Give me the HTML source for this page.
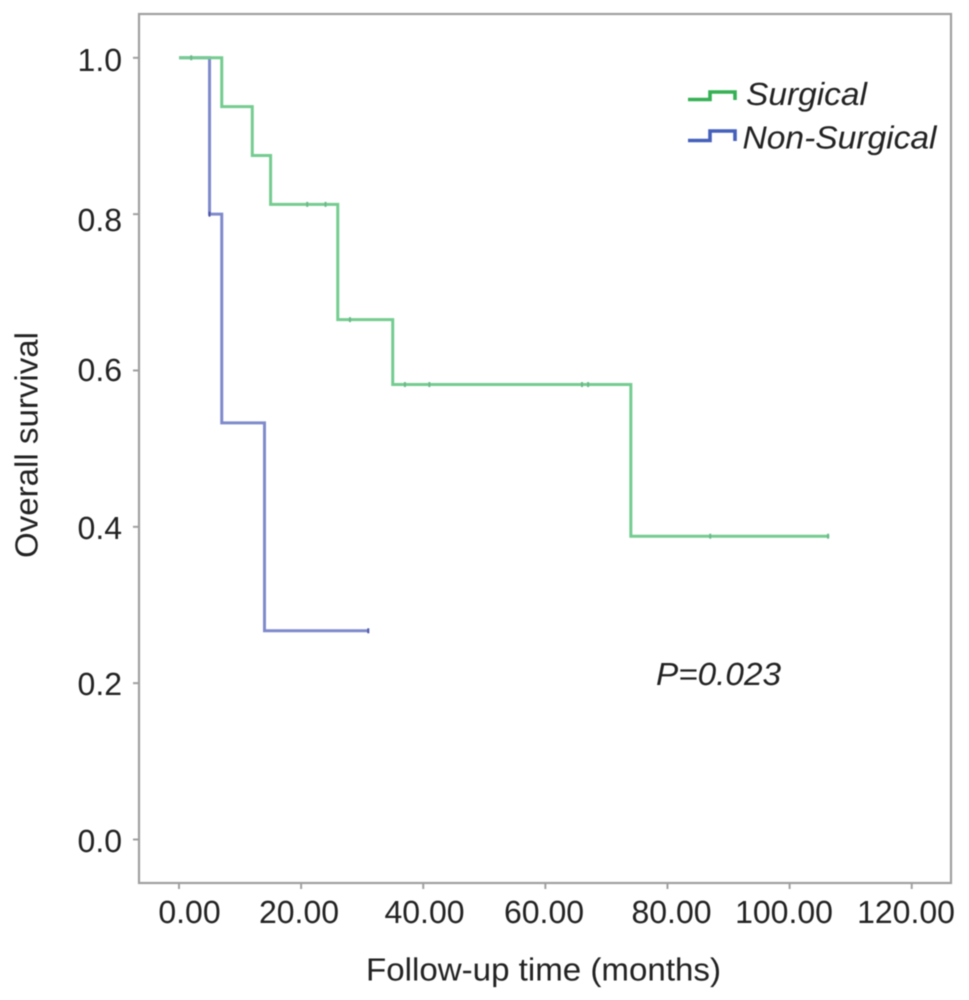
<!DOCTYPE html>
<html>
<head>
<meta charset="utf-8">
<title>Overall survival chart</title>
<style>
html,body{margin:0;padding:0;background:#fff;width:969px;height:1000px;overflow:hidden}
svg{display:block;filter:blur(.6px)}
text{font-family:"Liberation Sans",sans-serif;fill:#222;text-rendering:geometricPrecision}
</style>
</head>
<body>
<svg id="chart" xmlns="http://www.w3.org/2000/svg" width="969" height="1000" viewBox="0 0 969 1000">
  <rect x="139" y="14" width="812" height="869" fill="none" stroke="#a0a0a0" stroke-width="2.2"/>
  <g id="x-axis"></g>
  <g id="y-axis"></g>
  <g id="x-tick-labels" font-size="32" text-anchor="middle">
    <text x="189.5" y="923">0.00</text>
    <text x="299" y="923">20.00</text>
    <text x="424.5" y="923">40.00</text>
    <text x="544" y="923">60.00</text>
    <text x="671.5" y="923">80.00</text>
    <text x="784" y="923">100.00</text>
    <text x="906" y="923">120.00</text>
  </g>
  <g id="y-tick-labels" font-size="32" text-anchor="end">
    <text x="122" y="71">1.0</text>
    <text x="122" y="231">0.8</text>
    <text x="122" y="381">0.6</text>
    <text x="122" y="539">0.4</text>
    <text x="122" y="695">0.2</text>
    <text x="122" y="852">0.0</text>
  </g>
  <g id="series"></g>
  <text x="543.5" y="980.5" font-size="32" text-anchor="middle" textLength="355" lengthAdjust="spacingAndGlyphs">Follow-up time (months)</text>
  <text transform="translate(37.5 445) rotate(-90)" font-size="32" text-anchor="middle" textLength="226" lengthAdjust="spacingAndGlyphs">Overall survival</text>
  <g>
    <path d="M688 99.5H710V92H735V100" fill="none" stroke="#35b055" stroke-width="3.6"/>
    <text x="746" y="105" font-size="32" font-style="italic" textLength="121" lengthAdjust="spacingAndGlyphs">Surgical</text>
    <path d="M688 140.5H710V131H735V141" fill="none" stroke="#4560ba" stroke-width="3.6"/>
    <text x="742.5" y="148.5" font-size="32" font-style="italic" textLength="194" lengthAdjust="spacingAndGlyphs">Non-Surgical</text>
  </g>
  <text x="656" y="685" font-size="32" font-style="italic" textLength="125" lengthAdjust="spacingAndGlyphs">P=0.023</text>
</svg>
<script>
const xTicks = [0, 20, 40, 60, 80, 100, 120];
const yTicks = [0, 0.2, 0.4, 0.6, 0.8, 1.0];
const surgicalTimes = [0, 7, 12, 15, 26, 35, 74, 106.5];
const surgicalSurvival = [1, 0.9375, 0.875, 0.8125, 0.665, 0.582, 0.388, 0.388];
const surgicalCensored = [2, 21, 24, 28, 37, 41, 66, 67, 87, 106.3];
const nonSurgicalTimes = [0, 5, 7, 14, 31];
const nonSurgicalSurvival = [1, 0.8, 0.533, 0.267, 0.267];
const nonSurgicalCensored = [5, 31];

const NS = "http://www.w3.org/2000/svg";
function xScale(t) { return 179 + t * 6.106; }
function yScale(s) { return 839.5 - s * 781.7; }
function make(tag, attrs, parent) {
  const el = document.createElementNS(NS, tag);
  for (const k in attrs) el.setAttribute(k, attrs[k]);
  parent.appendChild(el);
  return el;
}
function survivalAt(times, values, t) {
  let v = values[0];
  for (let i = 0; i < times.length; i++) if (times[i] <= t) v = values[i];
  return v;
}
const xAxis = document.getElementById("x-axis");
xTicks.forEach(function (t) {
  const tick = make("line", {x1: xScale(t), x2: xScale(t), y1: 883, y2: 889, stroke: "#a0a0a0", "stroke-width": 2}, xAxis);
  
  
});
const yAxis = document.getElementById("y-axis");
yTicks.forEach(function (s) {
  const tick = make("line", {x1: 133, x2: 139, y1: yScale(s), y2: yScale(s), stroke: "#a0a0a0", "stroke-width": 2}, yAxis);
  
  
});
function drawSeries(times, values, censored, color, darkColor, name) {
  const group = document.getElementById("series");
  let d = "M" + xScale(times[0]) + " " + yScale(values[0]);
  for (let i = 1; i < times.length; i++) {
    d += "H" + xScale(times[i]) + "V" + yScale(values[i]);
  }
  const line = make("path", {d: d, fill: "none", stroke: color, "stroke-width": 3}, group);
  
  
  censored.forEach(function (t) {
    const y = yScale(survivalAt(times, values, t));
    const mark = make("line", {x1: xScale(t), x2: xScale(t), y1: y - 2.5, y2: y + 2.5, stroke: darkColor, "stroke-width": 2}, group);
    
    
  });
}
drawSeries(nonSurgicalTimes, nonSurgicalSurvival, nonSurgicalCensored, "#7f8acb", "#4f55a8", "non-surgical");
drawSeries(surgicalTimes, surgicalSurvival, surgicalCensored, "#74cc90", "#6bb88a", "surgical");
</script>
</body>
</html>
